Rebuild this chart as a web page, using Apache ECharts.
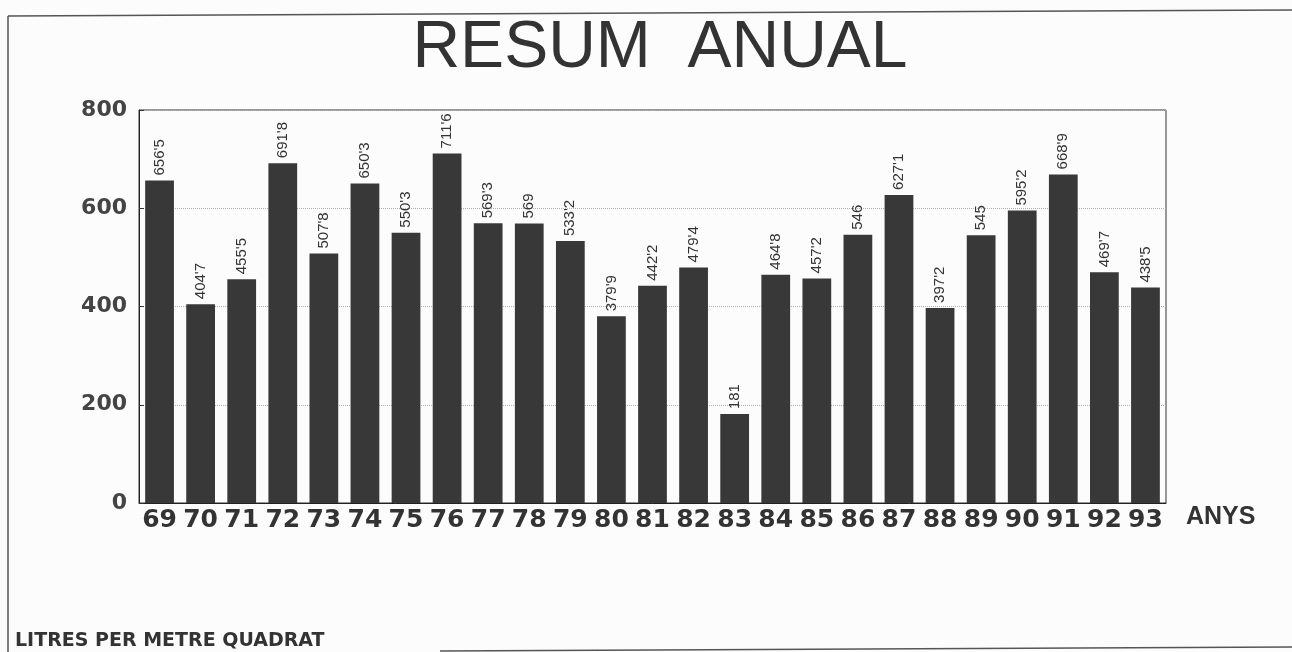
<!DOCTYPE html>
<html>
<head>
<meta charset="utf-8">
<script src="https://cdn.jsdelivr.net/npm/echarts@6/dist/echarts.min.js"></script>
<style>
  html, body { margin: 0; padding: 0; background: #fcfcfc; }
  #chart { width: 1292px; height: 652px; }
</style>
</head>
<body>
<div id="chart"></div>
<script>
const years = ['69','70','71','72','73','74','75','76','77','78','79','80','81','82','83','84','85','86','87','88','89','90','91','92','93'];
const litres = [656.5, 404.7, 455.5, 691.8, 507.8, 650.3, 550.3, 711.6, 569.3, 569, 533.2, 379.9, 442.2, 479.4, 181, 464.8, 457.2, 546, 627.1, 397.2, 545, 595.2, 668.9, 469.7, 438.5];
const yTicks = [0, 200, 400, 600, 800];
const titleText = 'RESUM  ANUAL';
const xName = 'ANYS';
const unitText = 'LITRES PER METRE QUADRAT';

const chart = echarts.init(document.getElementById('chart'), null, { renderer: 'canvas' });
const ink = '#333333';

chart.setOption({
  backgroundColor: '#fcfcfc',
  animation: false,
  title: [
    {
      text: titleText,
      left: 655,
      top: 11,
      textAlign: 'center',
      textStyle: { fontFamily: 'Liberation Sans', fontSize: 66, fontWeight: 'normal', color: ink }
    },
    {
      text: unitText,
      left: 10,
      top: 627,
      textStyle: { fontFamily: 'DejaVu Sans', fontSize: 19, fontWeight: 'bold', color: ink }
    }
  ],
  grid: {
    left: 139, right: 126, top: 110, bottom: 149,
    show: true, borderColor: '#333', borderWidth: 1, backgroundColor: 'transparent'
  },
  xAxis: {
    type: 'category',
    data: years,
    name: xName,
    nameLocation: 'end',
    nameGap: 20,
    nameTextStyle: { fontFamily: 'Liberation Sans', fontSize: 25, fontWeight: 'bold', color: ink, verticalAlign: 'top', padding: [2, 0, 0, 0] },
    axisLine: { show: true, lineStyle: { color: '#222', width: 1 } },
    axisTick: { show: false },
    axisLabel: { interval: 0, margin: 5, fontFamily: 'DejaVu Sans', fontSize: 25, fontWeight: 'bold', color: ink },
    splitLine: { show: false }
  },
  yAxis: {
    type: 'value',
    min: yTicks[0],
    max: yTicks[yTicks.length - 1],
    interval: yTicks[1] - yTicks[0],
    axisLine: { show: true, lineStyle: { color: '#222', width: 1 } },
    axisTick: { show: true, inside: true, length: 5, lineStyle: { color: '#333' } },
    axisLabel: { margin: 12, fontFamily: 'DejaVu Sans', fontSize: 22, fontWeight: 'bold', color: '#444' },
    splitLine: { show: true, lineStyle: { color: '#b0b0b0', type: 'dotted', width: 1 } }
  },
  series: [{
    type: 'bar',
    data: litres,
    barCategoryGap: '30%',
    itemStyle: { color: '#383838' },
    label: {
      show: true,
      position: 'top',
      rotate: 90,
      align: 'left',
      verticalAlign: 'middle',
      distance: 5,
      fontFamily: 'Liberation Sans',
      fontSize: 15,
      color: ink,
      formatter: p => String(p.value).replace('.', "'")
    }
  }],
  graphic: [
    { type: 'line', shape: { x1: 8, y1: 16, x2: 1292, y2: 10 }, style: { stroke: '#555', lineWidth: 1.5 } },
    { type: 'line', shape: { x1: 8, y1: 16, x2: 8, y2: 652 }, style: { stroke: '#555', lineWidth: 1.5 } },
    { type: 'line', shape: { x1: 440, y1: 651, x2: 1292, y2: 647 }, style: { stroke: '#555', lineWidth: 1.5 } }
  ]
});
</script>
</body>
</html>
